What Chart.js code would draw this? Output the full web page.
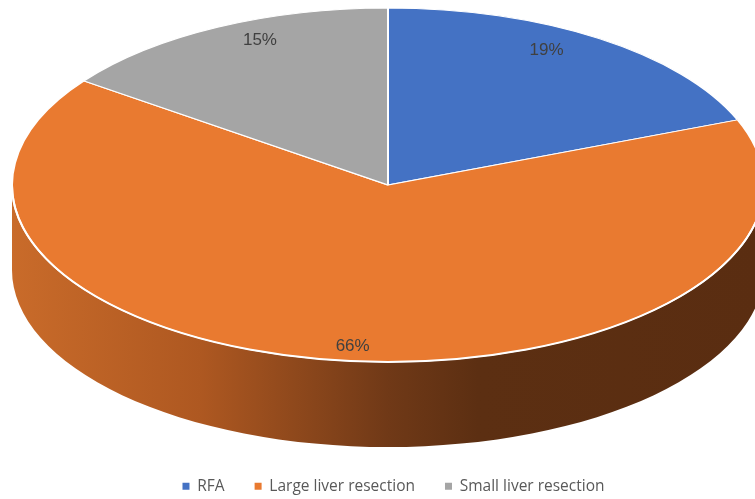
<!DOCTYPE html>
<html>
<head>
<meta charset="utf-8">
<script src="https://cdn.jsdelivr.net/npm/chart.js@4"></script>
<style>
  html, body { margin: 0; padding: 0; background: #fff; }
  #wrap { width: 755px; height: 499px; }
</style>
</head>
<body>
<div id="wrap"><canvas id="pieChart"></canvas></div>
<script>
// --- DATA ---
const categories = ['RFA', 'Large liver resection', 'Small liver resection'];
const shares = [19, 66, 15];
const sliceColors = ['#4472C4', '#E97A30', '#A5A5A5'];

// --- TILTED DISC GEOMETRY ---
const disc = { cx: 388, cy: 185, rx: 376, ry: 177, depth: 85 };

// draws the pie flattened into an ellipse, with a shaded wall underneath
const tiltPlugin = {
    id: 'tilt',
    beforeDatasetsDraw(chart) {
        const ctx = chart.ctx;
        const { cx, cy, rx, ry, depth } = disc;

        // side wall (only the front half is visible)
        const grad = ctx.createLinearGradient(cx - rx, 0, cx + rx, 0);
        grad.addColorStop(0, '#C96B2A');
        grad.addColorStop(0.25, '#AE5821');
        grad.addColorStop(0.5, '#703917');
        grad.addColorStop(0.62, '#5C2F12');
        grad.addColorStop(1, '#5A2D11');
        ctx.save();
        ctx.beginPath();
        ctx.moveTo(cx + rx, cy);
        ctx.lineTo(cx + rx, cy + depth);
        ctx.ellipse(cx, cy + depth, rx, ry, 0, 0, Math.PI, false);
        ctx.lineTo(cx - rx, cy);
        ctx.ellipse(cx, cy, rx, ry, 0, Math.PI, 0, true);
        ctx.closePath();
        ctx.fillStyle = grad;
        ctx.fill();
        ctx.restore();

        // squash the round pie into the top ellipse
        const arc = chart.getDatasetMeta(0).data[0];
        ctx.save();
        ctx.translate(cx, cy);
        ctx.scale(1, ry / rx);
        ctx.translate(-arc.x, -arc.y);
    },
    afterDatasetsDraw(chart) {
        const ctx = chart.ctx;
        const { cx, cy, rx, ry } = disc;
        ctx.restore();

        // white rim between top face and wall
        ctx.save();
        ctx.beginPath();
        ctx.ellipse(cx, cy, rx, ry, 0, 0, Math.PI, false);
        ctx.strokeStyle = '#ffffff';
        ctx.lineWidth = 2;
        ctx.stroke();
        ctx.restore();

        // percentage labels
        const meta = chart.getDatasetMeta(0);
        ctx.save();
        ctx.font = '17px "Liberation Sans Narrow", "Liberation Sans", sans-serif';
        ctx.fillStyle = '#404040';
        ctx.textAlign = 'center';
        ctx.textBaseline = 'middle';
        meta.data.forEach((el, i) => {
            const mid = (el.startAngle + el.endAngle) / 2;
            const x = cx + Math.cos(mid) * rx * 0.75;
            const y = cy + Math.sin(mid) * ry * 0.92;
            ctx.fillText(shares[i] + '%', x, y);
        });
        ctx.restore();
    }
};

// --- CHART SETUP ---
const ctx = document.getElementById('pieChart').getContext('2d');
const chart = new Chart(ctx, {
    type: 'pie',
    data: {
        labels: categories,
        datasets: [{
            data: shares,
            backgroundColor: sliceColors,
            borderColor: '#ffffff',
            borderWidth: 2,
            radius: disc.rx,
            clip: false
        }]
    },
    options: {
        responsive: true,
        maintainAspectRatio: false,
        animation: false,
        events: [],
        layout: { padding: { left: 32, bottom: -5 } },
        plugins: {
            tooltip: { enabled: false },
            legend: {
                position: 'bottom',
                labels: {
                    boxWidth: 7,
                    boxHeight: 7,
                    padding: 30,
                    color: '#595959',
                    font: { family: '"Open Sans", sans-serif', size: 15.5 },
                    generateLabels(c) {
                        return Chart.overrides.pie.plugins.legend.labels.generateLabels(c)
                            .map(item => Object.assign(item, { lineWidth: 0 }));
                    }
                }
            }
        }
    },
    plugins: [tiltPlugin]
});
</script>
</body>
</html>
